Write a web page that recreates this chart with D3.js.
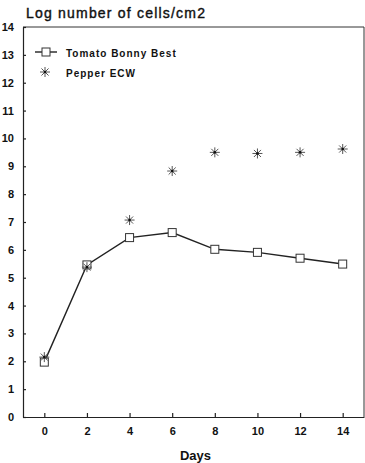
<!DOCTYPE html>
<meta charset="utf-8">
<style>
body { margin: 0; background: #fff; font-family: Arial, "Liberation Sans", sans-serif; }
.axis path, .axis line { fill: none; stroke: #222; stroke-width: 1.2; }
.axis text { font-size: 11px; font-weight: bold; fill: #111; }
</style>
<body>
<script src="https://d3js.org/d3.v7.min.js"></script>
<script>

// data
var days = [0, 2, 4, 6, 8, 10, 12, 14];
var tomato = [1.97, 5.46, 6.44, 6.62, 6.02, 5.91, 5.70, 5.49];
var pepper = [2.15, 5.38, 7.07, 8.83, 9.50, 9.46, 9.50, 9.62];
var yTicks = d3.range(0, 15);
var xTicks = [0, 2, 4, 6, 8, 10, 12, 14];

var W = 365, H = 463;
var margin = {top: 27, right: 1, bottom: 46, left: 23},
    width = W - margin.left - margin.right,
    height = H - margin.top - margin.bottom;

var x = d3.scaleLinear().domain([-1, 15]).range([0, width]);
var y = d3.scaleLinear().domain([0, 14]).range([height, 0]);

var svg = d3.select("body").append("svg")
    .attr("width", W)
    .attr("height", H)
  .append("g")
    .attr("transform", "translate(" + margin.left + "," + margin.top + ")");

// frame top and right
svg.append("path")
    .attr("d", "M0,0H" + width + "V" + height)
    .attr("fill", "none")
    .attr("stroke", "#333")
    .attr("stroke-width", 1);

var yAxis = d3.axisLeft(y).tickValues(yTicks).tickSize(-3).tickPadding(9).tickSizeOuter(0);
var xAxis = d3.axisBottom(x).tickValues(xTicks).tickSize(-4).tickPadding(10).tickSizeOuter(0);

svg.append("g").attr("class", "y axis").call(yAxis);
svg.append("g").attr("class", "x axis")
    .attr("transform", "translate(0," + height + ")")
    .call(xAxis);

// title and x label
svg.append("text")
    .attr("x", 3)
    .attr("y", -9)
    .style("font-size", "14px")
    .style("letter-spacing", "1.2px")
    .attr("fill", "#111")
    .attr("stroke", "#111")
    .attr("stroke-width", 0.4)
    .text("Log number of cells/cm2");

svg.append("text")
    .attr("x", width / 2 + 2)
    .attr("y", height + 43)
    .attr("text-anchor", "middle")
    .style("font-size", "13px")
    .style("font-weight", "bold")
    .attr("fill", "#111")
    .text("Days");

var tom = days.map(function(d, i) { return {d: d, v: tomato[i]}; });
var pep = days.map(function(d, i) { return {d: d, v: pepper[i]}; });

// tomato line
svg.append("path")
    .datum(tom)
    .attr("fill", "none")
    .attr("stroke", "#222")
    .attr("stroke-width", 1.4)
    .attr("d", d3.line().x(function(d) { return x(d.d); }).y(function(d) { return y(d.v); }));

function square(g, cx, cy) {
  g.append("rect")
    .attr("x", cx - 4).attr("y", cy - 4)
    .attr("width", 8).attr("height", 8)
    .attr("fill", "#fff")
    .attr("stroke", "#333")
    .attr("stroke-width", 1);
}

function star(g, cx, cy) {
  var r = 5, s = g.append("g").attr("transform", "translate(" + cx + "," + cy + ")");
  [0, 45, 90, 135].forEach(function(a) {
    var rad = a * Math.PI / 180;
    s.append("line")
      .attr("x1", -r * Math.cos(rad)).attr("y1", -r * Math.sin(rad))
      .attr("x2", r * Math.cos(rad)).attr("y2", r * Math.sin(rad))
      .attr("stroke", "#555").attr("stroke-width", 1);
  });
  s.append("circle").attr("r", 1.3).attr("fill", "#111");
}

tom.forEach(function(d) { square(svg, x(d.d), y(d.v)); });
pep.forEach(function(d) { star(svg, x(d.d), y(d.v)); });

// legend
var lg = svg.append("g");
lg.append("line")
    .attr("x1", 12).attr("x2", 34)
    .attr("y1", 25).attr("y2", 25)
    .attr("stroke", "#222").attr("stroke-width", 1.4);
square(lg, 23, 25);
star(lg, 22, 45);

lg.selectAll("text")
    .data(["Tomato Bonny Best", "Pepper ECW"])
  .enter().append("text")
    .attr("x", 43)
    .attr("y", function(d, i) { return 30 + i * 19.7; })
    .style("font-size", "10px")
    .style("font-weight", "bold")
    .style("letter-spacing", "1px")
    .attr("fill", "#111")
    .text(function(d) { return d; });

</script>
</body>
